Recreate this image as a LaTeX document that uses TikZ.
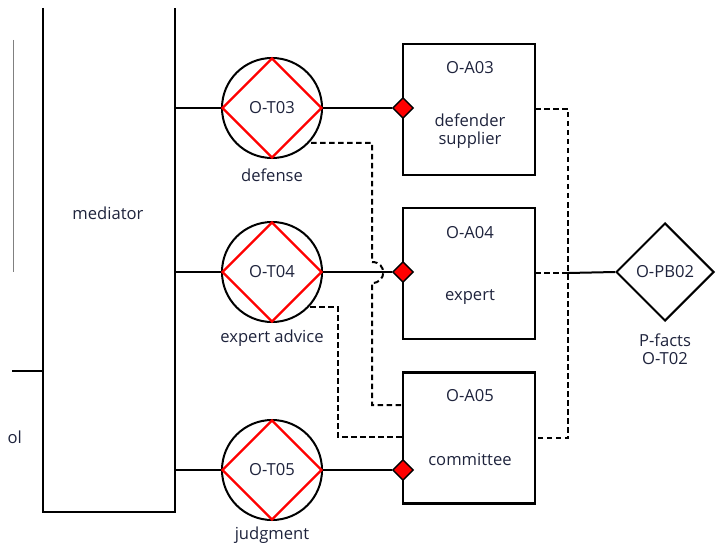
\documentclass[tikz,border=0pt]{standalone}
\usepackage{fontspec}
\setmainfont{Open Sans}
\usetikzlibrary{shapes.geometric}
\definecolor{txt}{RGB}{30,35,60}
\tikzset{
  every node/.style={font=\fontsize{16.6bp}{19bp}\selectfont, text=txt},
  ln/.style={line width=2bp, black},
  dsh/.style={line width=2bp, black, dash pattern=on 5.5bp off 3.5bp},
  task/.style={circle, draw=black, line width=2bp, minimum size=100bp, inner sep=0pt},
  redd/.style={diamond, draw=red, line width=2.2bp, minimum size=100bp, inner sep=0pt},
  actor/.style={rectangle, draw=black, line width=2.4bp, minimum width=132bp, minimum height=131bp, inner sep=0pt},
  port/.style={diamond, draw=black, fill=red, line width=1.4bp, minimum size=21bp, inner sep=0pt},
  bigd/.style={diamond, draw=black, line width=2bp, minimum size=98bp, inner sep=0pt},
}
\begin{document}
\begin{tikzpicture}[x=1bp,y=-1bp]
\useasboundingbox (0,0) rectangle (723,547);
\clip (0,0) rectangle (723,547);
% mediator
\coordinate (mtl) at (43,8);
\coordinate (mbl) at (43,512);
\coordinate (mbr) at (175,512);
\coordinate (mtr) at (175,8);
\draw[ln, line width=2.4bp] (mtl) -- (mbl) -- (mbr) -- (mtr);
\node (medtxt) at (108,213) {mediator};
% left bits
\coordinate (g1) at (13,40);
\coordinate (g2) at (13,272);
\draw[gray, line width=1bp] (g1) -- (g2);
\coordinate (l1) at (12,371);
\coordinate (l2) at (43,371);
\draw[ln] (l1) -- (l2);
\node[anchor=east, inner sep=0pt] (oltxt) at (22,437) {ol};
% tasks
\foreach \n/\y in {3/108,4/272,5/470}{
  \node[task] (t\n) at (272,\y) {};
  \node[redd] (r\n) at (272,\y) {O-T0\n};
  \coordinate (m\n) at (175,\y);
  \draw[ln] (m\n) -- (t\n.west);
}
\node (lab3) at (272,175) {defense};
\node (lab4) at (272,338) {expert advice};
\node (lab5) at (272,535) {judgment};
% actors
\node[actor] (a3) at (469,109.5) {};
\node[actor] (a4) at (469,273.5) {};
\node[actor] (a5) at (469,438) {};
\node (a3t) at (470,68) {O-A03};
\node[align=center] (a3s) at (470,131) {defender\\[-1bp]supplier};
\node (a4t) at (470,233) {O-A04};
\node (a4s) at (470,297) {expert};
\node (a5t) at (470,396) {O-A05};
\node (a5s) at (470,459) {committee};
\node[port] (p3) at (403,108) {};
\node[port] (p4) at (403,272) {};
\node[port] (p5) at (403,470) {};
\draw[ln] (t3.east) -- (p3.west);
\draw[ln] (t4.east) -- (p4.west);
\draw[ln] (t5.east) -- (p5.west);
% dashed from defense to committee with jump
\coordinate (d1) at (311,143);
\coordinate (d2) at (372,143);
\coordinate (d3) at (372,262);
\coordinate (d4) at (372,283);
\coordinate (d5) at (372,405);
\coordinate (d6) at (403,405);
\draw[dsh] (d1) -- (d2) -- (d3) .. controls (387,262) and (387,283) .. (d4) -- (d5) -- (d6);
% dashed from expert advice to committee
\coordinate (e1) at (310,307);
\coordinate (e2) at (338,307);
\coordinate (e3) at (338,437);
\coordinate (e4) at (403,437);
\draw[dsh] (e1) -- (e2) -- (e3) -- (e4);
% right side
\node[bigd] (pb) at (665,272) {O-PB02};
\node[align=center] (pbl) at (665,349) {P-facts\\[-1bp]O-T02};
\coordinate (f1) at (535,109);
\coordinate (f2) at (568,109);
\coordinate (f3) at (568,438);
\coordinate (f4) at (535,438);
\coordinate (f5) at (535,273);
\coordinate (f6) at (568,273);
\draw[dsh] (f1) -- (f2) -- (f3) -- (f4);
\draw[dsh] (f5) -- (f6);
\draw[ln] (f6) -- (pb.west);
\end{tikzpicture}
\end{document}
